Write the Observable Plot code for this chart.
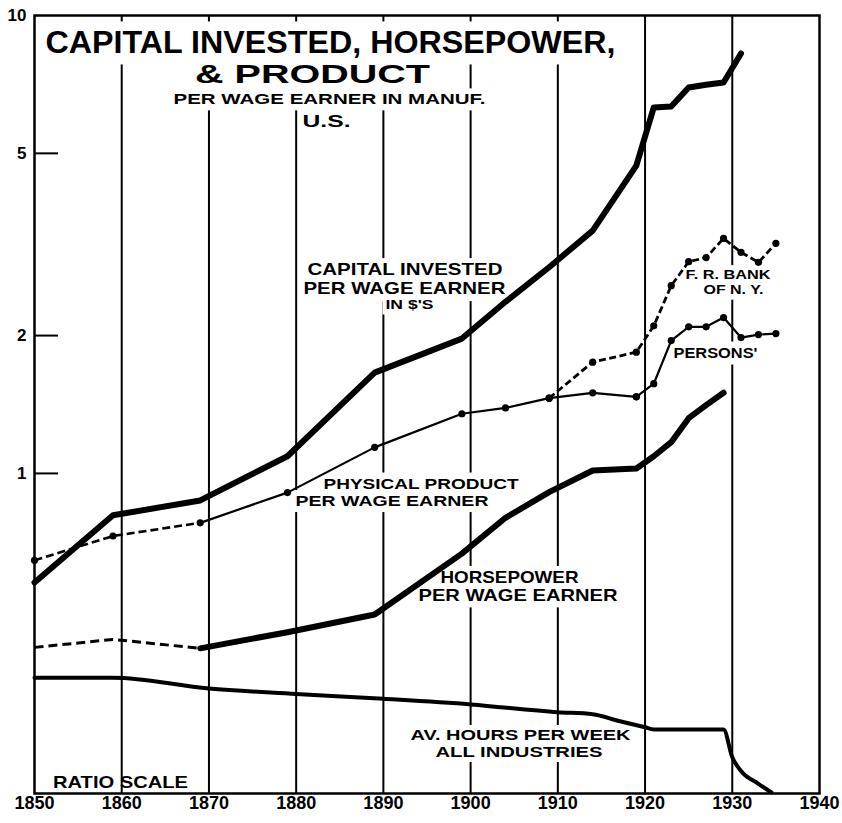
<!DOCTYPE html>
<html><head><meta charset="utf-8">
<script src="https://cdn.jsdelivr.net/npm/d3@7"></script>
<script src="https://cdn.jsdelivr.net/npm/@observablehq/plot@0.6"></script>
<style>html,body{margin:0;padding:0;background:#fff}#chart svg{display:block}</style>
</head><body><div id="chart"></div>
<script>
// ---- data (ratio scale values) ----
const capitalYears  = [1850,1859,1869,1879,1889,1899,1904,1909,1914,1919,1921,1923,1925,1927,1929,1931];
const capitalValues = [0.578,0.81,0.873,1.09,1.66,1.97,2.37,2.82,3.39,4.7,6.3,6.33,6.96,7.06,7.14,8.26];
const productYears  = [1850,1859,1869,1879,1889,1899,1904,1909,1914,1919];
const productValues = [0.646,0.73,0.78,0.908,1.14,1.35,1.39,1.46,1.50,1.47];
const personsYears  = [1919,1921,1923,1925,1927,1929,1931,1933,1935];
const personsValues = [1.47,1.57,1.95,2.09,2.09,2.19,1.98,2.01,2.02];
const frbYears  = [1909,1914,1919,1921,1923,1925,1927,1929,1931,1933,1935];
const frbValues = [1.46,1.75,1.84,2.10,2.57,2.90,2.96,3.26,3.04,2.89,3.18];
const hpYears  = [1850,1859,1869,1879,1889,1899,1904,1909,1914,1919,1921,1923,1925,1927,1929];
const hpValues = [0.417,0.434,0.415,0.45,0.492,0.668,0.80,0.91,1.015,1.025,1.09,1.17,1.32,1.41,1.50];
const hoursYears  = [1850,1859,1870,1880,1890,1900,1910,1914,1917,1920,1921,1929,1930,1931,1933,1934.5];
const hoursValues = [0.358,0.358,0.339,0.330,0.322,0.313,0.301,0.298,0.288,0.279,0.276,0.276,0.240,0.224,0.210,0.201];
const xTickLabels = [1850,1860,1870,1880,1890,1900,1910,1920,1930,1940];
const gridYears   = [1860,1870,1880,1890,1900,1910,1920,1930];
const yTickLabels = [1,2,5,10];
const yTickMarks  = [1,2,5];

// ---- layout ----
const W = 842, H = 823, ML = 34, MR = 23, MT = 15, MB = 30;
const innerW = W - ML - MR;
const zip = (xs, ys) => xs.map((x, i) => ({x, y: ys[i]}));
const capital = zip(capitalYears, capitalValues);
const product = zip(productYears, productValues);
const persons = zip(personsYears, personsValues);
const frb = zip(frbYears, frbValues);
const hp = zip(hpYears, hpValues);
const hours = zip(hoursYears, hoursValues);

// lettering: text, pixel anchor (x, cap-centre y), font size, fitted width, white backing pad
const notes = [
  {t: "CAPITAL INVESTED, HORSEPOWER,", x: 45, y: 41.5, size: 32, w: 570, anchor: "start", pad: 5},
  {t: "& PRODUCT", x: 312, y: 73.5, size: 26, w: 235, pad: 4},
  {t: "PER WAGE EARNER IN MANUF.", x: 329, y: 98.5, size: 15, w: 312, pad: 4},
  {t: "U.S.", x: 326, y: 121, size: 16, w: 48, pad: 3},
  {t: "CAPITAL INVESTED", x: 404.5, y: 268.5, size: 17, w: 195, pad: 4},
  {t: "PER WAGE EARNER", x: 404, y: 287.5, size: 17, w: 202, pad: 4},
  {t: "IN $'S", x: 409, y: 304.5, size: 12.5, w: 48, pad: 3},
  {t: "PHYSICAL PRODUCT", x: 420.5, y: 482.5, size: 15.5, w: 195, pad: 4},
  {t: "PER WAGE EARNER", x: 391.5, y: 500, size: 15.5, w: 193, pad: 4},
  {t: "HORSEPOWER", x: 509, y: 576.5, size: 16.5, w: 138, pad: 4},
  {t: "PER WAGE EARNER", x: 517.5, y: 595, size: 16.5, w: 199, pad: 4},
  {t: "AV. HOURS PER WEEK", x: 520, y: 734, size: 15.2, w: 220, pad: 3},
  {t: "ALL INDUSTRIES", x: 518.5, y: 751, size: 15.2, w: 167, pad: 3},
  {t: "F. R. BANK", x: 727.5, y: 274, size: 13, w: 85, pad: 4},
  {t: "OF N. Y.", x: 733, y: 288.5, size: 13, w: 60, pad: 4},
  {t: "PERSONS'", x: 715, y: 352, size: 14, w: 84, pad: 5},
  {t: "RATIO SCALE", x: 120, y: 781, size: 17, w: 135, pad: null}
];
const noteMarks = notes.map(n => Plot.text([n.t], {
  text: d => d, frameAnchor: "top-left", dx: n.x - ML, dy: n.y + 0.038 * n.size - MT,
  fontSize: n.size, fontWeight: "bold", textAnchor: n.anchor || "middle", lineAnchor: "middle", fill: "black"
}));

const lineOpts = {x: "x", y: "y", stroke: "black", strokeLinejoin: "round", strokeLinecap: "round"};

const chart = Plot.plot({
  width: W, height: H,
  marginLeft: ML, marginRight: MR, marginTop: MT, marginBottom: MB,
  style: {fontFamily: "'Liberation Sans', Arial, sans-serif", fontWeight: "bold", background: "white", color: "black", overflow: "visible"},
  x: {domain: [1850, 1940], axis: null},
  y: {type: "log", domain: [0.2, 10], axis: null},
  marks: [
    Plot.ruleX(gridYears, {x: d => d, stroke: "black", strokeWidth: 2}),
    ...noteMarks,
    Plot.frame({stroke: "black", strokeWidth: 2.5}),
    Plot.tickY(yTickMarks, {y: d => d, insetRight: innerW - 24, stroke: "black", strokeWidth: 2}),
    Plot.line(hours, {...lineOpts, curve: "monotone-x", strokeWidth: 4}),
    Plot.line(hp.filter(d => d.x <= 1869), {...lineOpts, strokeWidth: 3, strokeDasharray: "9,5", strokeLinecap: "butt"}),
    Plot.line(hp.filter(d => d.x >= 1869), {...lineOpts, strokeWidth: 6}),
    Plot.line(product.filter(d => d.x <= 1869), {...lineOpts, strokeWidth: 2.6, strokeDasharray: "8,4", strokeLinecap: "butt"}),
    Plot.line(product.filter(d => d.x >= 1869), {...lineOpts, strokeWidth: 2.2}),
    Plot.line(persons, {...lineOpts, strokeWidth: 2.2}),
    Plot.line(frb, {...lineOpts, strokeWidth: 2.8, strokeDasharray: "7,3.5", strokeLinecap: "butt"}),
    Plot.dot([...product, ...persons, ...frb], {x: "x", y: "y", r: 3.6, fill: "black", stroke: "none"}),
    Plot.line(capital, {...lineOpts, strokeWidth: 6}),
    Plot.text(xTickLabels, {x: d => d, text: d => String(d), frameAnchor: "bottom", dy: 15, fontSize: 18, fontWeight: "bold", fill: "black"}),
    Plot.text(yTickLabels, {y: d => d, text: d => String(d), frameAnchor: "left", dx: -8, textAnchor: "end", fontSize: 17, fontWeight: "bold", fill: "black"})
  ]
});

// fit lettering widths (the first notes.length text elements are the notes, in order)
const noteEls = Array.from(chart.querySelectorAll("text")).slice(0, notes.length);
noteEls.forEach((el, i) => {
  el.setAttribute("textLength", notes[i].w);
  el.setAttribute("lengthAdjust", "spacingAndGlyphs");
});

document.getElementById("chart").appendChild(chart);

// white backing behind lettering, which breaks the grid lines as in the drawing
const NS = "http://www.w3.org/2000/svg";
const box = chart.getBoundingClientRect();
const backing = document.createElementNS(NS, "g");
noteEls.forEach((el, i) => {
  const pad = notes[i].pad;
  if (pad == null) return;
  const r = el.getBoundingClientRect();
  const rect = document.createElementNS(NS, "rect");
  rect.setAttribute("x", r.left - box.left - pad);
  rect.setAttribute("y", r.top - box.top - pad + 2);
  rect.setAttribute("width", r.width + 2 * pad);
  rect.setAttribute("height", r.height + 2 * pad - 3);
  rect.setAttribute("fill", "white");
  backing.appendChild(rect);
});
const firstNoteGroup = noteEls[0].parentNode;
firstNoteGroup.parentNode.insertBefore(backing, firstNoteGroup);
</script>
</body></html>
